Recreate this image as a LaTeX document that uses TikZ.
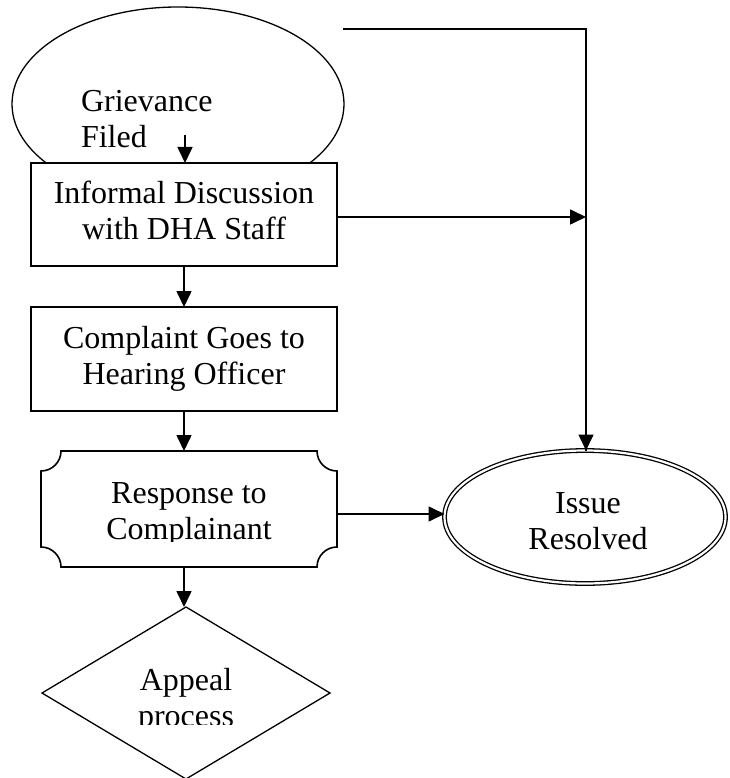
\documentclass[tikz,border=0pt]{standalone}
\usepackage{fontspec}
\setmainfont{Liberation Serif}
\usetikzlibrary{arrows.meta,shapes.geometric,calc}
\newcommand\mytwo[2]{\begin{tabular}{@{}c@{}}#1\\#2\end{tabular}}
\newcommand\mytwotop[2]{\begin{tabular}[t]{@{}c@{}}#1\\#2\end{tabular}}
\tikzset{
  shapeline/.style={draw=black, line width=1.6pt, fill=white, inner sep=0pt, outer sep=0pt},
  ovalline/.style={draw=black, line width=1.3pt, inner sep=0pt, outer sep=0pt},
  flow/.style={draw=black, line width=1.6pt, -{Triangle[length=16pt,width=15pt]}},
  plainline/.style={draw=black, line width=1.6pt},
  txt/.style={inner sep=0pt, outer sep=0pt, font=\fontsize{32}{36}\selectfont},
}
\begin{document}
\begin{tikzpicture}[x=1pt,y=1pt]
\useasboundingbox (0,0) rectangle (729,-778);
% shapes
\node[ellipse, ovalline, minimum width=332pt, minimum height=194pt] (start) at (178,-104) {};
\node[txt, anchor=base west] (starttxt) at (81,-112)
  {\fontsize{32}{36}\selectfont\begin{tabular}[t]{@{}l@{}}Grievance\\Filed\end{tabular}};
\node[rectangle, shapeline, minimum width=306pt, minimum height=103pt, txt] (box1) at (184,-214.5)
  {\mytwo{Informal Discussion}{with DHA Staff}};
\node[rectangle, shapeline, minimum width=306pt, minimum height=104pt, txt] (box2) at (184,-359)
  {\mytwo{Complaint Goes to}{Hearing Officer}};
\node[rectangle, draw=none, inner sep=0pt, outer sep=0pt, minimum width=296pt, minimum height=116pt] (box3) at (189,-509) {};
\draw[line width=1.6pt]
  ([xshift=20pt]box3.north west) -- ([xshift=-20pt]box3.north east)
  arc[start angle=180, end angle=270, radius=20pt]
  -- ([yshift=20pt]box3.south east)
  arc[start angle=90, end angle=180, radius=20pt]
  -- ([xshift=20pt]box3.south west)
  arc[start angle=0, end angle=90, radius=20pt]
  -- ([yshift=-20pt]box3.north west)
  arc[start angle=270, end angle=360, radius=20pt] -- cycle;
\begin{scope}
  \clip (0,-451) rectangle (729,-541);
  \node[txt, anchor=base] (box3txt) at (189,-503) {\mytwotop{Response to}{Complainant}};
\end{scope}
\node[ellipse, ovalline, double, double distance=2.2pt, minimum width=281pt, minimum height=133pt] (done) at (585,-517) {};
\node[txt, anchor=base] (donetxt) at (588,-513) {\mytwotop{Issue}{Resolved}};
\node[diamond, ovalline, aspect=1.674, minimum width=288pt, minimum height=172pt] (appeal) at (186,-693) {};
\begin{scope}
  \clip (0,-607) rectangle (729,-724);
  \node[txt, anchor=base] (appealtxt) at (186,-690) {\mytwotop{Appeal}{process}};
\end{scope}
% free ends
\coordinate (g0) at (185,-135);
\coordinate (t0) at (343,-29);
\coordinate (t1) at (586,-29);
% connectors
\draw[flow] (g0) -- (g0 |- box1.north);
\draw[flow] (box1.south) -- (box2.north);
\draw[flow] (box2.south) -- (box2.south |- box3.north);
\draw[flow] (box2.south |- box3.south) -- (box2.south |- appeal.north);
\draw[plainline] (t0) -- (t1) -- (t1 |- done.north);
\draw[flow] (t1 |- done.north) ++(0,40) -- (t1 |- done.north);
\draw[flow] ([yshift=-2.5pt]box1.east) -- ([yshift=-2.5pt]box1.east -| t1);
\draw[flow] ([yshift=-5pt]box3.east) -- ([yshift=-5pt]box3.east -| done.west);
\end{tikzpicture}
\end{document}
